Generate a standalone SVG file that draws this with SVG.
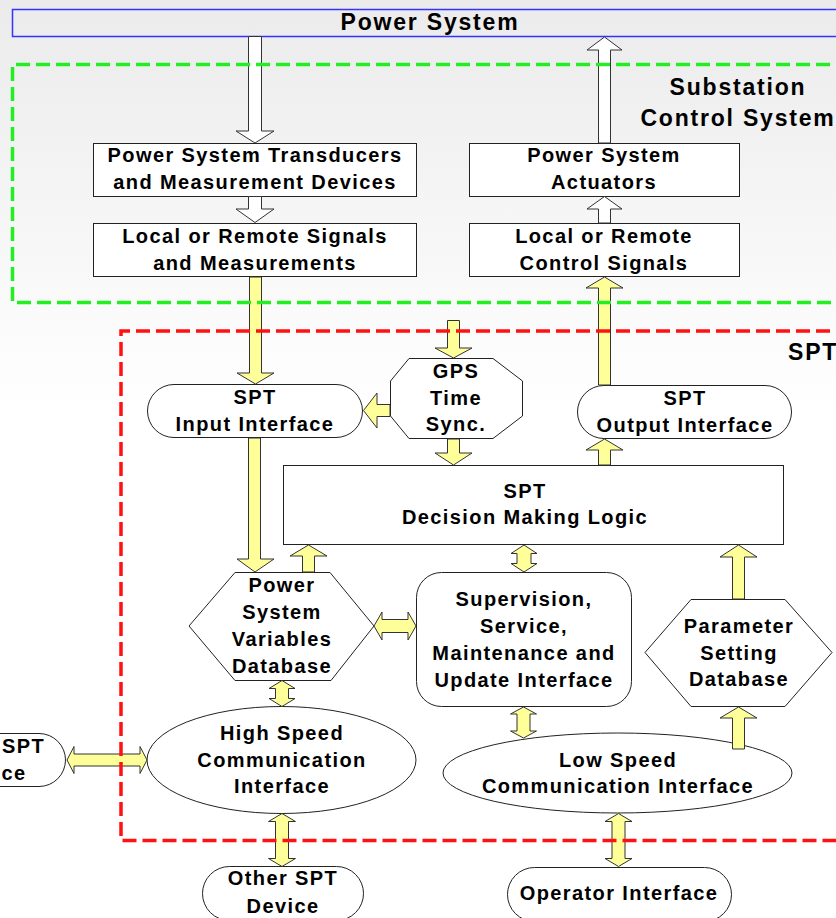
<svg xmlns="http://www.w3.org/2000/svg" width="836" height="918" viewBox="0 0 836 918">
<defs>
<linearGradient id="bg" x1="0" y1="0" x2="0" y2="1">
<stop offset="0" stop-color="#ebebeb"/>
<stop offset="0.45" stop-color="#ffffff"/>
<stop offset="1" stop-color="#ffffff"/>
</linearGradient>
<style>
text{font-family:"Liberation Sans",Arial,sans-serif;font-weight:bold;font-size:20px;letter-spacing:1.4px;text-anchor:middle;fill:#000}
.big{font-size:23px;letter-spacing:1.8px}
.node{fill:#fff;stroke:#222;stroke-width:1}
.ya{fill:#ffff99;stroke:#333;stroke-width:1;stroke-linejoin:miter}
.wa{fill:#fff;stroke:#333;stroke-width:1}
.frame{fill:none;stroke-width:3.5;stroke-dasharray:14 6}
</style>
</defs>
<rect x="0" y="0" width="836" height="918" fill="url(#bg)"/>

<g id="power-system">
<rect x="12.5" y="9.5" width="830" height="27" fill="none" stroke="#3333ff" stroke-width="1.5"/>
<text class="big" x="430" y="30">Power System</text>
</g>

<g id="transducers">
<rect class="node" x="93.5" y="143.5" width="323" height="53"/>
<text x="255" y="162">Power System Transducers</text>
<text x="255" y="189">and Measurement Devices</text>
</g>
<g id="local-signals">
<rect class="node" x="93.5" y="223.5" width="323" height="53"/>
<text x="255" y="243">Local or Remote Signals</text>
<text x="255" y="270">and Measurements</text>
</g>
<g id="actuators">
<rect class="node" x="469.5" y="143.5" width="270" height="53"/>
<text x="604" y="162">Power System</text>
<text x="604" y="189">Actuators</text>
</g>
<g id="control-signals">
<rect class="node" x="469.5" y="223.5" width="270" height="53"/>
<text x="604" y="243">Local or Remote</text>
<text x="604" y="270">Control Signals</text>
</g>

<g id="input-interface">
<rect class="node" x="147.5" y="384.5" width="215" height="53" rx="26.5"/>
<text x="255" y="404">SPT</text>
<text x="255" y="431">Input Interface</text>
</g>
<g id="gps">
<polygon class="node" points="409,358.5 493,358.5 522.5,381 522.5,416 493,438.5 409,438.5 390.5,416 390.5,381"/>
<text x="456" y="378">GPS</text>
<text x="456" y="405">Time</text>
<text x="456" y="431">Sync.</text>
</g>
<g id="output-interface">
<rect class="node" x="577.5" y="385.5" width="214" height="53" rx="26.5"/>
<text x="685" y="405">SPT</text>
<text x="685" y="432">Output Interface</text>
</g>
<g id="decision">
<rect class="node" x="283.5" y="465.5" width="500" height="79"/>
<text x="525" y="498">SPT</text>
<text x="525" y="524">Decision Making Logic</text>
</g>
<g id="psvd">
<polygon class="node" points="235,572.5 330,572.5 374,626 331,680.5 235,680.5 189,626"/>
<text x="282" y="592">Power</text>
<text x="282" y="619">System</text>
<text x="282" y="646">Variables</text>
<text x="282" y="673">Database</text>
</g>
<g id="supervision">
<rect class="node" x="416.5" y="572.5" width="215" height="134" rx="25"/>
<text x="524" y="606">Supervision,</text>
<text x="524" y="633">Service,</text>
<text x="524" y="660">Maintenance and</text>
<text x="524" y="687">Update Interface</text>
</g>
<g id="psd">
<polygon class="node" points="691,599.5 785,599.5 832,652.5 785,706.5 691,706.5 645,652.5"/>
<text x="739" y="633">Parameter</text>
<text x="739" y="660">Setting</text>
<text x="739" y="686">Database</text>
</g>
<g id="hsci">
<ellipse class="node" cx="281.5" cy="760" rx="134.5" ry="53.5"/>
<text x="282" y="740">High Speed</text>
<text x="282" y="767">Communication</text>
<text x="282" y="793">Interface</text>
</g>
<g id="lsci">
<ellipse class="node" cx="617.5" cy="773" rx="174.5" ry="40"/>
<text x="618" y="767">Low Speed</text>
<text x="618" y="793">Communication Interface</text>
</g>
<g id="other-spt-left">
<rect class="node" x="-95.5" y="733.5" width="161" height="53" rx="26.5"/>
<text x="-10" y="753">Other SPT</text>
<text x="-10" y="780">Device</text>
</g>
<g id="other-spt-bottom">
<rect class="node" x="202.5" y="866.5" width="161" height="54" rx="27"/>
<text x="283" y="885">Other SPT</text>
<text x="283" y="913">Device</text>
</g>
<g id="operator">
<rect class="node" x="507.5" y="867.5" width="224" height="54" rx="27"/>
<text x="619" y="900">Operator Interface</text>
</g>

<g id="connectors">
<path class="wa" d="M248.5,36.5 L261.5,36.5 L261.5,131 L274,131 L255,143 L236,131 L248.5,131 Z"/>
<path class="wa" d="M598.5,143 L598.5,50 L587,50 L604.5,37 L622,50 L610.5,50 L610.5,143 Z"/>
<path class="wa" d="M248.5,196.5 L261.5,196.5 L261.5,209 L274,209 L255,222.5 L236,209 L248.5,209 Z"/>
<path class="wa" d="M598.5,223 L598.5,209 L587,209 L604.5,196.5 L622,209 L610.5,209 L610.5,223 Z"/>

<path class="ya" d="M249.5,277 L261.5,277 L261.5,373 L274,373 L255.5,384 L237,373 L249.5,373 Z"/>
<path class="ya" d="M447.5,320.5 L459.5,320.5 L459.5,348 L472,348 L453.5,358 L435,348 L447.5,348 Z"/>
<path class="ya" d="M390,404.5 L377,404.5 L377,393 L363.5,410.5 L377,428 L377,416.5 L390,416.5 Z"/>
<path class="ya" d="M447.5,439 L459.5,439 L459.5,453 L472,453 L453.5,465 L435,453 L447.5,453 Z"/>
<path class="ya" d="M598.5,385 L598.5,288 L586,288 L604.5,277 L623,288 L610.5,288 L610.5,385 Z"/>
<path class="ya" d="M598.5,465 L598.5,450 L586,450 L604.5,439 L623,450 L610.5,450 L610.5,465 Z"/>
<path class="ya" d="M248.5,438 L260.5,438 L260.5,559 L274,559 L255,572 L237,559 L248.5,559 Z"/>
<path class="ya" d="M302.5,572 L302.5,556 L290,556 L308.5,545 L327,556 L314.5,556 L314.5,572 Z"/>
<path class="ya" d="M732.5,599 L732.5,557 L720,557 L738.5,545 L757,557 L744.5,557 L744.5,599 Z"/>
<path class="ya" d="M732.5,749 L732.5,718 L720,718 L738.5,707 L757,718 L744.5,718 L744.5,749 Z"/>

<path class="ya" d="M524,545 L537,553.5 L531,553.5 L531,563.5 L537,563.5 L524,572 L511,563.5 L517,563.5 L517,553.5 L511,553.5 Z"/>
<path class="ya" d="M282,680.5 L295,688.5 L288.5,688.5 L288.5,698.5 L295,698.5 L282,706.5 L269,698.5 L275.5,698.5 L275.5,688.5 L269,688.5 Z"/>
<path class="ya" d="M523.5,707 L536.5,714 L530,714 L530,731 L536.5,731 L523.5,738 L510.5,731 L517,731 L517,714 L510.5,714 Z"/>
<path class="ya" d="M282,813.5 L295.5,821.5 L288.5,821.5 L288.5,858.5 L295.5,858.5 L282,866.5 L268.5,858.5 L275.5,858.5 L275.5,821.5 L268.5,821.5 Z"/>
<path class="ya" d="M618.5,813.5 L632,821.5 L625,821.5 L625,858.5 L632,858.5 L618.5,866.5 L605,858.5 L612,858.5 L612,821.5 L605,821.5 Z"/>

<path class="ya" d="M374,626 L382,612 L382,619.5 L408,619.5 L408,612 L416,626 L408,640 L408,632.5 L382,632.5 L382,640 Z"/>
<path class="ya" d="M67,760 L74,746.5 L74,754 L140,754 L140,746.5 L147,760 L140,773.5 L140,766 L74,766 L74,773.5 Z"/>
</g>

<g id="substation-frame">
<path class="frame" stroke="#22ee22" d="M850,64.5 L12.5,64.5 L12.5,302.5 L850,302.5"/>
<text class="big" x="738" y="95">Substation</text>
<text class="big" x="738" y="126">Control System</text>
</g>
<g id="spt-frame">
<path class="frame" stroke="#ff1111" d="M850,331 L121,331 L121,840.5 L850,840.5"/>
<text class="big" x="788" y="360" style="text-anchor:start">SPT</text>
</g>
</svg>
